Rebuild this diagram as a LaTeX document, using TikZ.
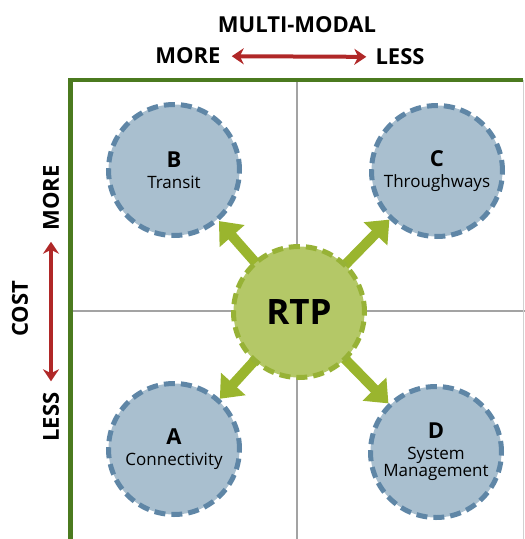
\documentclass[tikz,border=0pt]{standalone}
\usepackage{fontspec}
\setmainfont{Open Sans}
\usetikzlibrary{arrows.meta,positioning,backgrounds}

\definecolor{areafill}{HTML}{A9BFCF}
\definecolor{areadash}{HTML}{5F86A6}
\definecolor{hubfill}{HTML}{B4C867}
\definecolor{hubdash}{HTML}{97B236}
\definecolor{spokegreen}{HTML}{9AB52E}
\definecolor{axisred}{HTML}{B02828}
\definecolor{framegreen}{HTML}{4B7A1F}
\definecolor{gridgray}{HTML}{A3A3A3}

\begin{document}
\begin{tikzpicture}[x=1pt,y=-1pt]
 \tikzset{
 	area node/.style={circle,draw=areadash,fill=areafill,line width=5pt,dash pattern=on 11pt off 6pt,minimum size=131pt,inner sep=0pt,align=center,font=\fontsize{17}{18}\selectfont},
 	hub node/.style={circle,draw=hubdash,fill=hubfill,line width=5pt,dash pattern=on 11pt off 6pt,minimum size=131pt,inner sep=0pt,font=\fontsize{35}{36}\selectfont\bfseries},
 	axis label/.style={font=\fontsize{22}{23}\selectfont\bfseries,inner sep=1pt},
 	spoke/.style={color=spokegreen,line width=10pt,-{Triangle[width=32pt,length=20pt]}},
 	axis arrow/.style={color=axisred,line width=4pt,{Stealth[length=12pt,width=16pt]}-{Stealth[length=12pt,width=16pt]}}
 }
 \useasboundingbox (0,0) rectangle (525,539);

       % quadrants
       \coordinate (ftl) at (68,80);
       \coordinate (ftr) at (523,80);
       \coordinate (fbl) at (70,539);
       \coordinate (fbr) at (523,539);
       \coordinate (gt) at (297,80);
       \coordinate (gb) at (297,539);
       \coordinate (gl) at (70,311);
       \coordinate (gr) at (525,311);

       \node[hub node] (rtp) at (299,312) {RTP};
       \node[area node] (b) at (174,170) {{\fontsize{22}{22}\selectfont\bfseries B}\\[3pt]Transit};
       \node[area node] (c) at (437,171) {{\fontsize{22}{22}\selectfont\bfseries C}\\[3pt]Throughways};
       \node[area node] (a) at (174,449) {{\fontsize{22}{22}\selectfont\bfseries A}\\[3pt]Connectivity};
       \node[area node] (d) at (436,452) {{\fontsize{22}{22}\selectfont\bfseries D}\\[3pt]System\\[-1pt]Management};

       % axes
       \node[axis label] (mm) at (297,25) {MULTI-MODAL};
       \node[axis label] (more1) at (188,56) {MORE};
       \node[axis label] (less1) at (400,57) {LESS};
       \node[axis label,rotate=90] (cost) at (20,309) {COST};
       \node[axis label,rotate=90] (more2) at (51,198) {MORE};
       \node[axis label,rotate=90] (less2) at (51,417) {LESS};

     \path[axis arrow] (more1) edge[shorten <=10pt,shorten >=8pt] (less1);
     \path[axis arrow] (more2) edge[shorten <=10pt,shorten >=10pt] (less2);

     \begin{scope}[on background layer]
     \draw[gridgray,line width=1.5pt] (gt) -- (gb);
     \draw[gridgray,line width=1.5pt] (gl) -- (gr);
     \draw[gridgray!50,line width=1pt] (ftr) -- (fbr);
     \draw[framegreen,line width=4pt] (ftl) -- (ftr);
     \draw[framegreen,line width=5pt] (70,78) -- (fbl);
     \path[spoke] (rtp.center) edge (a) (rtp.center) edge (b) (rtp.center) edge (c) (rtp.center) edge (d);
     \end{scope}
 \end{tikzpicture}
\end{document}
